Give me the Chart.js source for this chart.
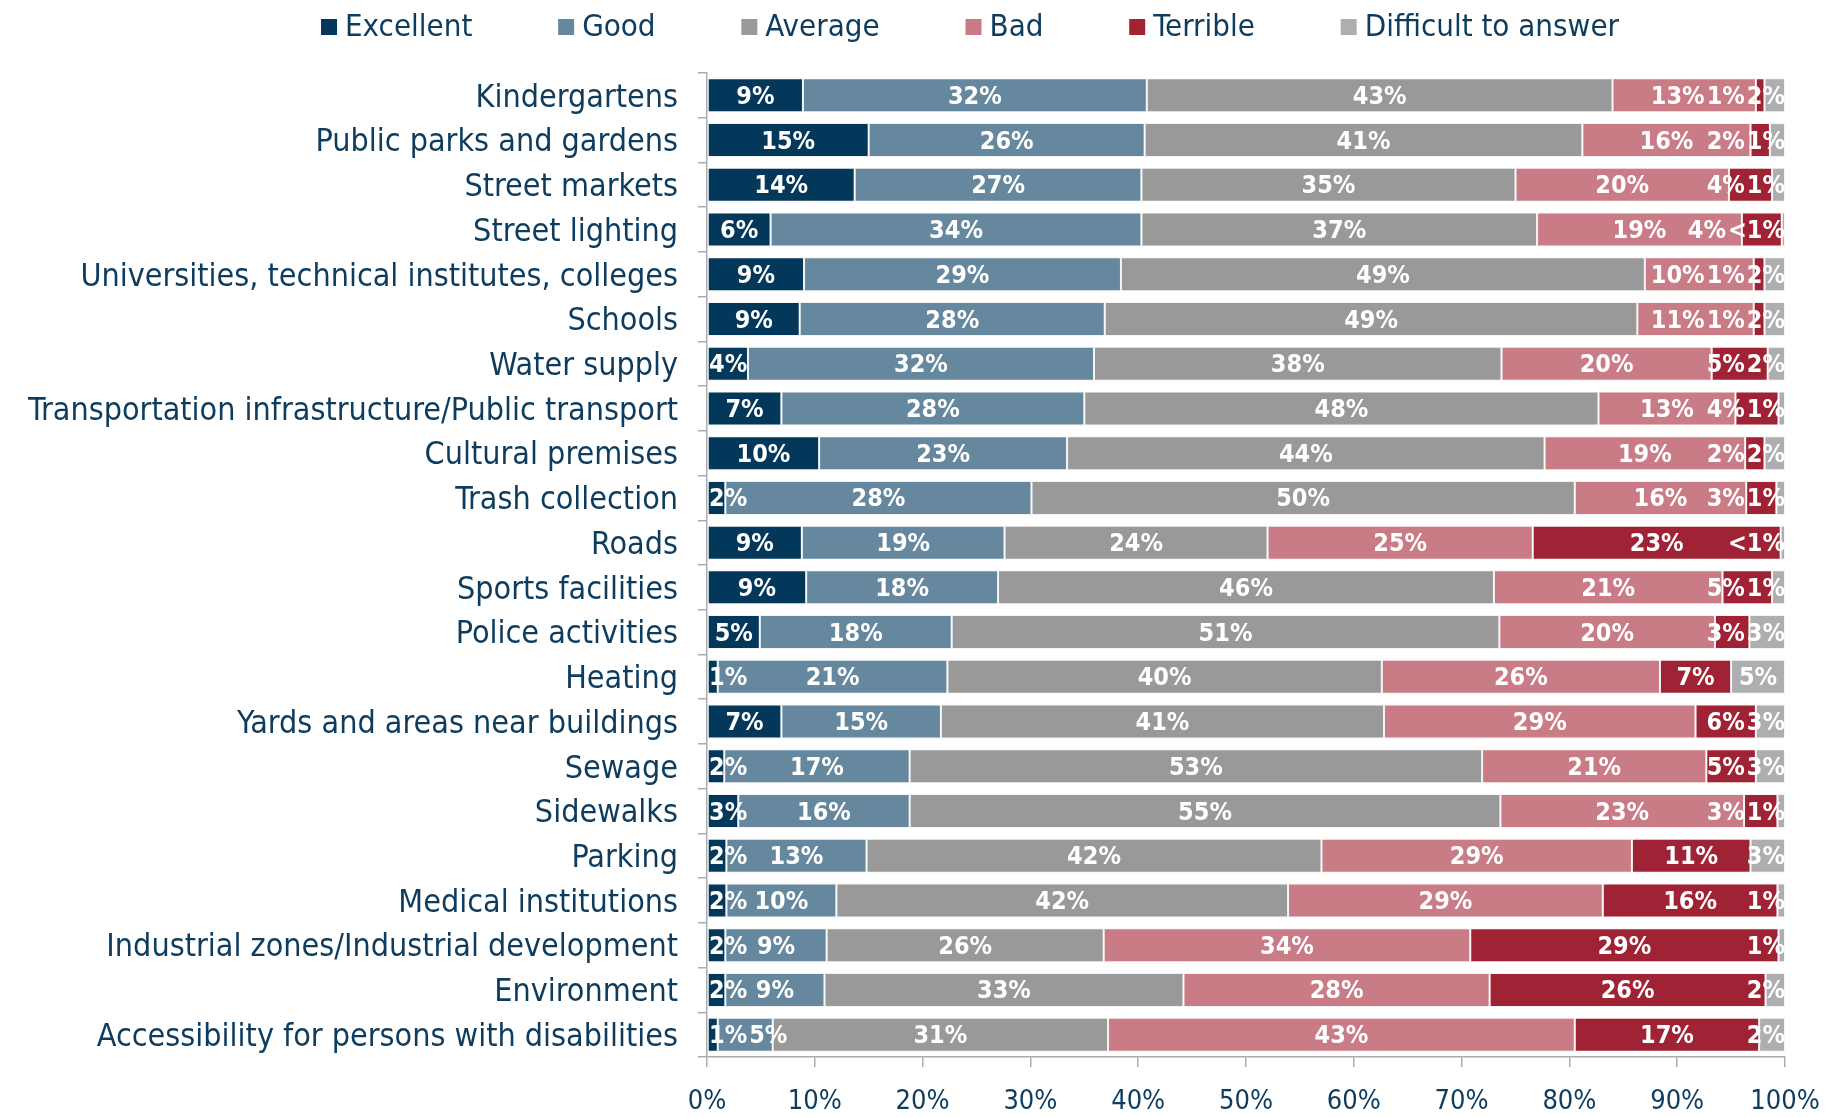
<!DOCTYPE html>
<html>
<head>
<meta charset="utf-8">
<script src="https://cdn.jsdelivr.net/npm/chart.js@4.4.1/dist/chart.umd.min.js"></script>
<style>
  html, body { margin: 0; padding: 0; background: #ffffff; }
  #wrap { width: 1826px; height: 1117px; }
</style>
</head>
<body>
<div id="wrap"><canvas id="chart" width="1826" height="1117"></canvas></div>
<script>
// Assessment of city services, share of answers (%)
const categories = [
  "Kindergartens",
  "Public parks and gardens",
  "Street markets",
  "Street lighting",
  "Universities, technical institutes, colleges",
  "Schools",
  "Water supply",
  "Transportation infrastructure/Public transport",
  "Cultural premises",
  "Trash collection",
  "Roads",
  "Sports facilities",
  "Police activities",
  "Heating",
  "Yards and areas near buildings",
  "Sewage",
  "Sidewalks",
  "Parking",
  "Medical institutions",
  "Industrial zones/Industrial development",
  "Environment",
  "Accessibility for persons with disabilities"
];

const seriesNames = ["Excellent", "Good", "Average", "Bad", "Terrible", "Difficult to answer"];

const excellent = [8.9, 15.0, 13.7, 5.9, 9.0, 8.6, 3.8, 6.9, 10.4, 1.7, 8.8, 9.2, 4.9, 1.0, 6.9, 1.6, 2.9, 1.8, 1.8, 1.7, 1.7, 1.0];
const good      = [31.9, 25.6, 26.6, 34.4, 29.4, 28.3, 32.1, 28.1, 23.0, 28.4, 18.8, 17.8, 17.8, 21.3, 14.8, 17.2, 15.9, 13.0, 10.2, 9.4, 9.2, 5.1];
const average   = [43.2, 40.6, 34.7, 36.7, 48.6, 49.4, 37.8, 47.7, 44.3, 50.4, 24.4, 46.0, 50.8, 40.3, 41.1, 53.1, 54.8, 42.2, 41.9, 25.7, 33.3, 31.1];
const bad       = [13.3, 15.6, 19.8, 19.0, 10.1, 10.8, 19.5, 12.7, 18.6, 15.9, 24.6, 21.2, 20.0, 25.8, 28.9, 20.8, 22.6, 28.8, 29.2, 34.0, 28.4, 43.3];
const terrible  = [0.8, 1.8, 4.0, 3.7, 1.0, 1.0, 5.2, 4.0, 1.8, 2.8, 23.0, 4.6, 3.2, 6.6, 5.6, 4.6, 3.1, 11.0, 16.2, 28.6, 25.6, 17.1];
const difficult = [1.9, 1.4, 1.2, 0.3, 1.9, 1.9, 1.6, 0.6, 1.9, 0.8, 0.4, 1.2, 3.3, 5.0, 2.7, 2.7, 0.7, 3.2, 0.7, 0.6, 1.8, 2.4];

const xTicks = [0, 10, 20, 30, 40, 50, 60, 70, 80, 90, 100];

const FONT = "'DejaVu Sans Condensed', 'DejaVu Sans', sans-serif";
const NAVY = "#0d3c5e";
const AXIS = "#a9adb2";
const colors = ["#03385a", "#66889e", "#999999", "#c97b86", "#a02335", "#aeaeb0"];
const values = [excellent, good, average, bad, terrible, difficult];

Chart.defaults.font.family = FONT;

function labelText(v) {
  const r = Math.round(v);
  return r < 1 ? "<1%" : r + "%";
}

// White percentage labels inside the bars; crowded labels are nudged apart
const valueLabels = {
  id: "valueLabels",
  afterDatasetsDraw(chart) {
    const { ctx, chartArea } = chart;
    const gap = 2;
    ctx.save();
    ctx.font = "bold 25px " + FONT;
    ctx.fillStyle = "#ffffff";
    ctx.textBaseline = "middle";
    ctx.textAlign = "left";
    chart.data.labels.forEach((_, i) => {
      const items = chart.data.datasets.map((ds, d) => {
        const el = chart.getDatasetMeta(d).data[i];
        const text = labelText(ds.data[i]);
        const w = ctx.measureText(text).width;
        const cx = (el.x + el.base) / 2;
        return { text, w, left: cx - w / 2, y: el.y };
      });
      let minLeft = chartArea.left + 2;
      items.forEach(it => {
        if (it.left < minLeft) it.left = minLeft;
        minLeft = it.left + it.w + gap;
      });
      let maxRight = chartArea.right;
      for (let k = items.length - 1; k >= 0; k--) {
        const it = items[k];
        if (it.left + it.w > maxRight) it.left = maxRight - it.w;
        maxRight = it.left - gap;
      }
      items.forEach(it => ctx.fillText(it.text, it.left, it.y + 2));
    });
    ctx.restore();
  }
};

// Single-row legend across the top
const topLegend = {
  id: "topLegend",
  afterDraw(chart) {
    const ctx = chart.ctx;
    ctx.save();
    ctx.font = "31px " + FONT;
    ctx.textBaseline = "middle";
    ctx.textAlign = "left";
    const boxW = 16, boxH = 16, boxGap = 8;
    const start = 321, end = 1619, cy = 27;
    const items = chart.data.datasets.map(ds => ({
      label: ds.label, color: ds.backgroundColor, w: ctx.measureText(ds.label).width
    }));
    const content = items.reduce((s, it) => s + boxW + boxGap + it.w, 0);
    const spacing = (end - start - content) / (items.length - 1);
    let x = start;
    items.forEach(it => {
      ctx.fillStyle = it.color;
      ctx.fillRect(x, cy - boxH / 2, boxW, boxH);
      ctx.fillStyle = NAVY;
      ctx.fillText(it.label, x + boxW + boxGap, cy + 1);
      x += boxW + boxGap + it.w + spacing;
    });
    ctx.restore();
  }
};

new Chart(document.getElementById("chart"), {
  type: "bar",
  data: {
    labels: categories,
    datasets: seriesNames.map((name, k) => ({
      label: name,
      data: values[k],
      backgroundColor: colors[k],
      borderColor: "rgba(235,235,235,0.55)",
      borderWidth: 1,
      borderSkipped: false,
      barPercentage: 0.76,
      categoryPercentage: 1.0
    }))
  },
  options: {
    indexAxis: "y",
    responsive: false,
    animation: false,
    devicePixelRatio: 1,
    layout: { padding: { top: 73, right: 41, bottom: 0, left: 0 } },
    plugins: {
      legend: { display: false },
      tooltip: { enabled: false }
    },
    scales: {
      x: {
        stacked: true,
        min: 0,
        max: 100,
        afterBuildTicks(scale) { scale.ticks = xTicks.map(v => ({ value: v })); },
        afterFit(scale) {
          scale.height = 60;
          scale.paddingLeft = 0;
          scale.paddingRight = 0;
        },
        ticks: {
          callback: v => v + "%",
          color: NAVY,
          font: { size: 27 },
          padding: 19,
          maxRotation: 0
        },
        grid: { drawOnChartArea: false, drawTicks: true, tickLength: 10, color: AXIS, lineWidth: 1.5 },
        border: { display: true, color: AXIS, width: 1.5 }
      },
      y: {
        stacked: true,
        afterFit(scale) {
          scale.width = 707;
          scale.paddingTop = 0;
          scale.paddingBottom = 0;
        },
        ticks: {
          color: NAVY,
          font: { size: 32 },
          padding: 20,
          labelOffset: 3,
          autoSkip: false
        },
        grid: { drawOnChartArea: false, drawTicks: true, tickLength: 9, offset: true, color: AXIS, lineWidth: 1.5 },
        border: { display: true, color: AXIS, width: 1.5 }
      }
    }
  },
  plugins: [valueLabels, topLegend]
});
</script>
</body>
</html>
